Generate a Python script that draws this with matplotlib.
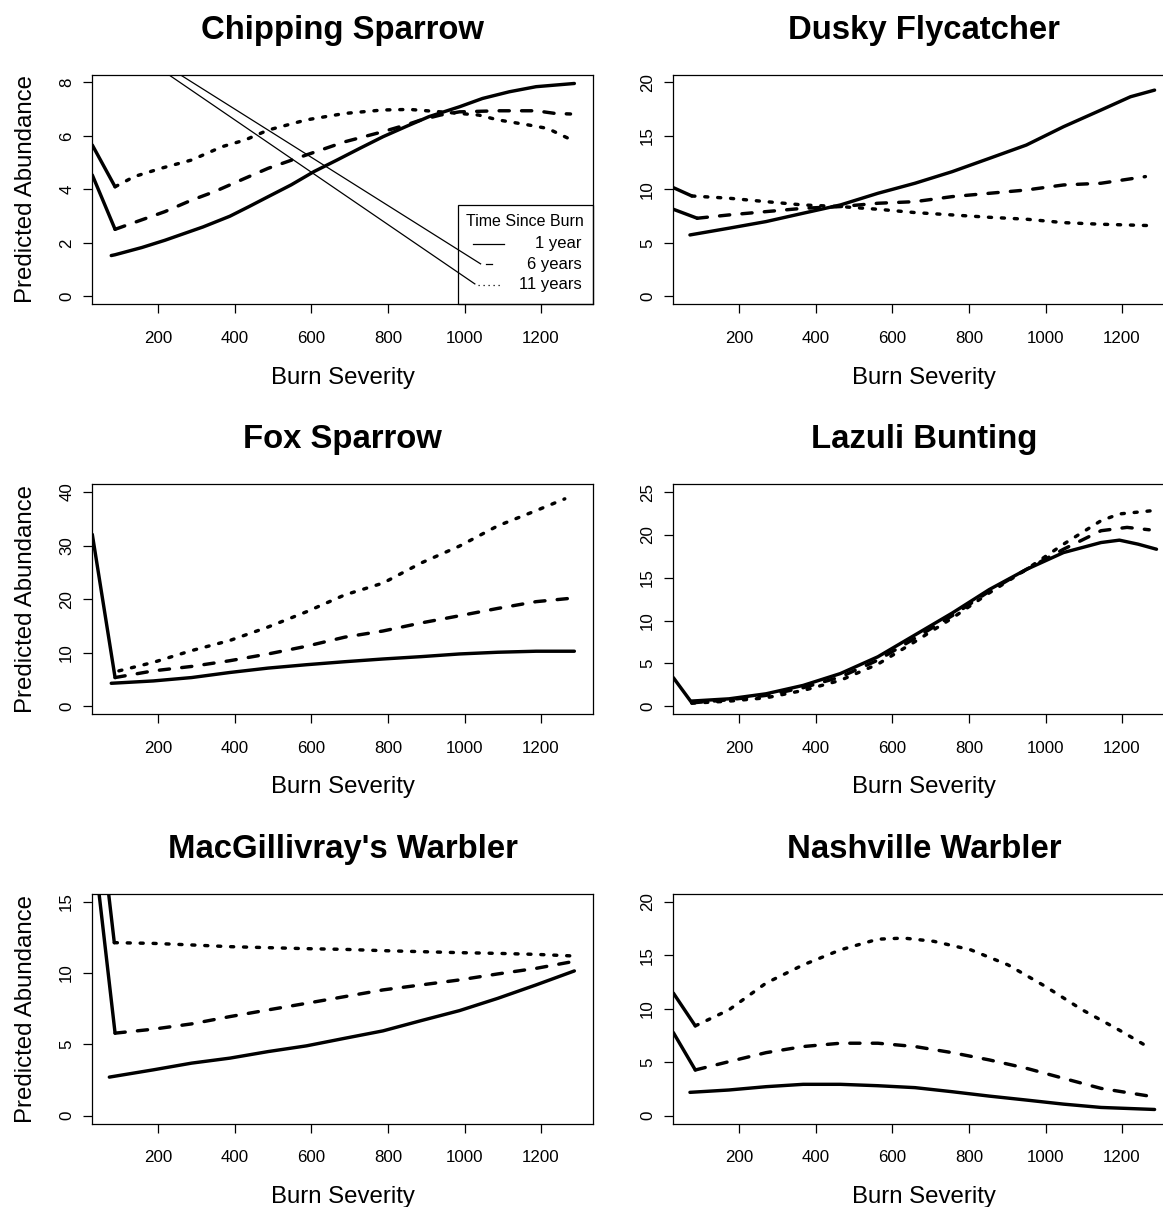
import matplotlib
matplotlib.use("Agg")
import matplotlib.pyplot as plt
from matplotlib.patches import Rectangle

plt.rcParams['font.family'] = ['Liberation Sans', 'DejaVu Sans']

# ---- data (burn severity vs predicted abundance) ----
titles = ["Chipping Sparrow", "Dusky Flycatcher", "Fox Sparrow",
          "Lazuli Bunting", "MacGillivray's Warbler", "Nashville Warbler"]
ymax = [8, 20, 40, 25, 15, 20]
ystep = [2, 5, 10, 5, 5, 5]
xticks = [200, 400, 600, 800, 1000, 1200]
legend_title = "Time Since Burn"
legend_labels = ["1 year", "6 years", "11 years"]

# Chipping Sparrow
chsp_x1 = [77, 87, 157, 217, 317, 387, 437, 487, 547, 607, 667, 727, 787, 847, 907, 987, 1047, 1117, 1187, 1287]
chsp_y1 = [1.53, 1.56, 1.83, 2.1, 2.6, 3.0, 3.36, 3.73, 4.17, 4.67, 5.1, 5.54, 5.97, 6.35, 6.72, 7.09, 7.4, 7.65, 7.84, 7.96]
chsp_x6 = [87, 217, 287, 347, 427, 487, 587, 687, 787, 847, 887, 937, 987, 1087, 1187, 1237, 1277]
chsp_y6 = [2.51, 3.17, 3.6, 3.92, 4.42, 4.79, 5.29, 5.78, 6.16, 6.41, 6.6, 6.78, 6.9, 6.94, 6.94, 6.84, 6.82]
chsp_x11 = [87, 137, 207, 287, 367, 427, 487, 587, 687, 787, 857, 937, 987, 1037, 1087, 1167, 1217, 1277]
chsp_y11 = [4.1, 4.48, 4.79, 5.1, 5.6, 5.85, 6.22, 6.6, 6.84, 6.97, 6.99, 6.9, 6.84, 6.78, 6.6, 6.41, 6.28, 5.87]
chsp_lead = [(27.5, 4.54), (27.5, 5.66)]

# Dusky Flycatcher
dufl_x1 = [71, 173, 270, 367, 464, 562, 659, 756, 853, 950, 1047, 1145, 1222, 1285]
dufl_y1 = [5.75, 6.38, 7.0, 7.78, 8.55, 9.64, 10.58, 11.66, 12.9, 14.15, 15.86, 17.42, 18.66, 19.28]
dufl_x6 = [90, 173, 270, 367, 464, 562, 659, 756, 853, 950, 1047, 1145, 1261]
dufl_y6 = [7.31, 7.62, 7.93, 8.24, 8.4, 8.71, 8.86, 9.33, 9.64, 9.95, 10.42, 10.58, 11.2]
dufl_x11 = [76, 173, 270, 367, 464, 562, 659, 756, 853, 950, 1047, 1145, 1266]
dufl_y11 = [9.39, 9.18, 8.86, 8.55, 8.4, 8.15, 7.84, 7.62, 7.4, 7.22, 6.9, 6.75, 6.63]
dufl_lead = [(27.5, 8.15), (27.5, 10.17)]

# Fox Sparrow
fosp_x1 = [77, 187, 287, 387, 487, 587, 687, 787, 887, 987, 1087, 1187, 1287]
fosp_y1 = [4.28, 4.72, 5.35, 6.3, 7.12, 7.75, 8.31, 8.82, 9.26, 9.76, 10.08, 10.27, 10.27]
fosp_x6 = [87, 187, 287, 387, 487, 587, 687, 787, 887, 987, 1087, 1187, 1277]
fosp_y6 = [5.35, 6.6, 7.43, 8.5, 9.76, 11.2, 12.9, 14.05, 15.56, 16.9, 18.27, 19.53, 20.16]
fosp_x11 = [97, 187, 287, 387, 487, 587, 687, 787, 887, 987, 1087, 1187, 1262]
fosp_y11 = [6.6, 8.19, 10.39, 12.28, 14.8, 17.64, 20.79, 23.0, 26.77, 29.92, 33.7, 36.54, 38.74]
fosp_lead = [(27.5, 32.1), None]

# Lazuli Bunting
labu_x1 = [76, 173, 270, 367, 464, 562, 659, 756, 853, 950, 1047, 1145, 1193, 1242, 1290]
labu_y1 = [0.6, 0.86, 1.45, 2.43, 3.81, 5.77, 8.32, 10.87, 13.62, 15.97, 17.94, 19.11, 19.39, 18.92, 18.33]
labu_x6 = [76, 173, 270, 367, 464, 562, 659, 756, 853, 950, 1047, 1145, 1213, 1271]
labu_y6 = [0.39, 0.75, 1.26, 2.16, 3.41, 5.38, 7.93, 10.56, 13.42, 15.97, 18.33, 20.49, 20.88, 20.6]
labu_x11 = [76, 173, 270, 367, 464, 562, 659, 756, 853, 950, 1047, 1145, 1193, 1281]
labu_y11 = [0.35, 0.59, 0.98, 1.84, 3.02, 4.91, 7.54, 10.28, 13.23, 15.97, 18.92, 21.66, 22.45, 22.84]
labu_lead = [(27.5, 3.34), None]

# MacGillivray's Warbler
mawa_x1 = [72, 187, 287, 387, 487, 587, 687, 787, 887, 987, 1087, 1187, 1287]
mawa_y1 = [2.71, 3.22, 3.69, 4.04, 4.5, 4.9, 5.43, 5.95, 6.67, 7.37, 8.23, 9.17, 10.15]
mawa_x6 = [87, 187, 287, 387, 487, 587, 687, 787, 887, 987, 1087, 1187, 1282]
mawa_y6 = [5.79, 6.07, 6.44, 6.95, 7.42, 7.88, 8.35, 8.82, 9.17, 9.52, 9.94, 10.33, 10.8]
mawa_x11 = [85, 187, 287, 387, 487, 587, 687, 787, 887, 987, 1087, 1187, 1282]
mawa_y11 = [12.13, 12.08, 11.97, 11.85, 11.78, 11.71, 11.66, 11.57, 11.5, 11.43, 11.38, 11.31, 11.2]
mawa_lead = [(45, 15.6), (70, 15.6)]

# Nashville Warbler
nawa_x1 = [71, 173, 270, 367, 464, 562, 659, 756, 853, 950, 1047, 1145, 1285]
nawa_y1 = [2.19, 2.41, 2.72, 2.94, 2.94, 2.81, 2.63, 2.25, 1.84, 1.47, 1.09, 0.78, 0.59]
nawa_x6 = [85, 173, 270, 367, 464, 562, 659, 756, 853, 950, 1047, 1145, 1271]
nawa_y6 = [4.28, 5.06, 5.9, 6.47, 6.78, 6.78, 6.47, 5.9, 5.22, 4.44, 3.5, 2.56, 1.84]
nawa_x11 = [85, 173, 270, 367, 464, 562, 630, 708, 805, 902, 999, 1096, 1193, 1266]
nawa_y11 = [8.4, 9.9, 12.4, 14.1, 15.5, 16.5, 16.6, 16.3, 15.5, 14.1, 12.1, 9.9, 8.0, 6.47]
nawa_lead = [(27.5, 7.78), (27.5, 11.47)]

# stray thin strokes running into the legend keys of the first panel
chsp_guides = [((227, None), (1027, 0.47)), ((257, None), (1042, 1.22))]

curves = [
    [(chsp_x1, chsp_y1), (chsp_x6, chsp_y6), (chsp_x11, chsp_y11)],
    [(dufl_x1, dufl_y1), (dufl_x6, dufl_y6), (dufl_x11, dufl_y11)],
    [(fosp_x1, fosp_y1), (fosp_x6, fosp_y6), (fosp_x11, fosp_y11)],
    [(labu_x1, labu_y1), (labu_x6, labu_y6), (labu_x11, labu_y11)],
    [(mawa_x1, mawa_y1), (mawa_x6, mawa_y6), (mawa_x11, mawa_y11)],
    [(nawa_x1, nawa_y1), (nawa_x6, nawa_y6), (nawa_x11, nawa_y11)],
]
leads = [chsp_lead, dufl_lead, fosp_lead, labu_lead, mawa_lead, nawa_lead]

LW = 2.45
styles = [dict(ls='-'), dict(ls=(0, (3.0, 3.6))), dict(ls=(0, (0.9, 2.9)))]
XLIM = (27.5, 1336.5)

W, H = 1163, 1207
fig = plt.figure(figsize=(W / 100, H / 100), dpi=100)

col_x = [92.3, 673.3]
row_top = [74.7, 484.4, 894.0]
ax_w, ax_h = 501.0, 229.5


def add_legend(ax, ylim):
    ax.add_patch(Rectangle((0.729, 0.0), 0.271, 0.432, transform=ax.transAxes,
                           fill=False, ec='black', lw=0.9, clip_on=False, zorder=5))
    ax.text(0.864, 0.361, legend_title, transform=ax.transAxes, ha='center',
            va='center', fontsize=11.5)
    rows = [0.264, 0.173, 0.085]
    spans = [(0.760, 0.821), (0.785, 0.798), (0.770, 0.816)]
    key_ls = ['-', '-', (0, (1, 3))]
    for lab, yy, (x0, x1), ls in zip(legend_labels, rows, spans, key_ls):
        ax.plot([x0, x1], [yy, yy], transform=ax.transAxes, color='black',
                lw=0.9, ls=ls)
        ax.text(0.977, yy, lab, transform=ax.transAxes, ha='right',
                va='center', fontsize=12)
    for (gx0, _), (gx1, gy1) in chsp_guides:
        ax.plot([gx0, gx1], [ylim[1], gy1], color='black', lw=0.9)


for i, title in enumerate(titles):
    r, c = divmod(i, 2)
    left = col_x[c] / W
    bottom = 1 - (row_top[r] + ax_h) / H
    ax = fig.add_axes([left, bottom, ax_w / W, ax_h / H])

    top = ymax[i]
    pad = 0.036 * top
    ylim = (-pad, top + pad)

    for (x, y), st in zip(curves[i], styles):
        ax.plot(x, y, color='black', lw=LW, solid_capstyle='round',
                dash_capstyle='round', solid_joinstyle='round', **st)
    for lead, (x, y) in zip(leads[i], curves[i][1:]):
        if lead is None:
            continue
        ax.plot([lead[0], x[0]], [lead[1], y[0]], color='black', lw=LW,
                solid_capstyle='round')

    if i == 0:
        add_legend(ax, ylim)

    ax.set_xlim(*XLIM)
    ax.set_ylim(*ylim)
    ax.set_xticks(xticks)
    ax.set_yticks(list(range(0, top + 1, ystep[i])))
    ax.tick_params(axis='both', length=6.8, width=0.9, labelsize=12.2,
                   direction='out', color='black')
    ax.tick_params(axis='x', pad=12.4)
    ax.tick_params(axis='y', pad=6.2, labelrotation=90)
    for lab in ax.get_yticklabels():
        lab.set_va('center')
    for sp in ax.spines.values():
        sp.set_linewidth(0.9)

    ax.set_title(title, fontsize=23.7, fontweight='bold', pad=26)
    ax.set_xlabel("Burn Severity", fontsize=17.3)
    ax.xaxis.set_label_coords(0.5, -0.272)
    if c == 0:
        ax.set_ylabel("Predicted Abundance", fontsize=17.3)
        ax.yaxis.set_label_coords(-0.111, 0.5)

fig.savefig("out.png", dpi=100)
